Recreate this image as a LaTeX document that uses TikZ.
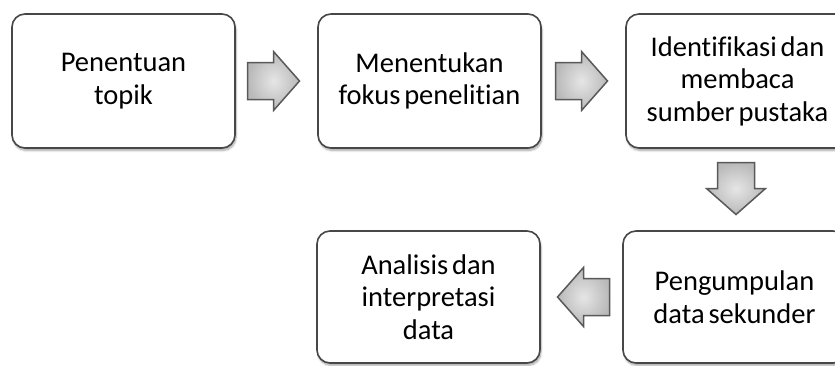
\documentclass[tikz,border=0pt]{standalone}
\usepackage{fontspec}
\setmainfont{Carlito}[Ligatures=NoCommon, WordSpace=0.6]
\usetikzlibrary{shadows.blur,calc}
\tikzset{
  stepbox/.style={rectangle, rounded corners=13pt, draw=black!72, line width=1.6pt,
    fill=white, minimum width=223pt, minimum height=134pt, align=center,
    font=\fontsize{28.5}{32.5}\selectfont,
    blur shadow={shadow xshift=1pt, shadow yshift=-2.5pt, shadow blur steps=6, shadow opacity=35}},
  arrowline/.style={draw=black!65, line width=1.5pt, line join=miter,
    inner color=gray!20, outer color=gray!55},
  blockarrow/.pic={
    \path[arrowline] (-26,-18.5) -- (0,-18.5) -- (0,-29.5) -- (26,0) -- (0,29.5) -- (0,18.5) -- (-26,18.5) -- cycle;
  }
}
\begin{document}
\begin{tikzpicture}[x=1pt,y=-1pt]
\useasboundingbox (0,0) rectangle (835,365);
\clip (0,0) rectangle (835,365);
\node[stepbox] (b1) at (123.5,81) {Penentuan\\topik};
\node[stepbox] (b2) at (429.5,81) {Menentukan\\fokus penelitian};
\node[stepbox] (b3) at (737.5,81) {Identifikasi dan\\membaca\\sumber pustaka};
\node[stepbox, minimum height=132pt] (b4) at (734.5,297) {Pengumpulan\\data sekunder};
\node[stepbox, minimum height=132pt] (b5) at (428.5,297) {Analisis dan\\interpretasi\\data};
\coordinate (a1) at ($(b1.east)!0.5!(b2.west)+(-3,0)$);
\coordinate (a2) at ($(b2.east)!0.5!(b3.west)+(-2,0)$);
\coordinate (a3) at ($(b3.south)!0.5!(b4.north)+(0,-1)$);
\coordinate (a4) at ($(b4.west)!0.5!(b5.east)+(2,0)$);
\pic at (a1) {blockarrow};
\pic at (a2) {blockarrow};
\pic[rotate=-90] at (a3) {blockarrow};
\pic[rotate=180] at (a4) {blockarrow};
\end{tikzpicture}
\end{document}
